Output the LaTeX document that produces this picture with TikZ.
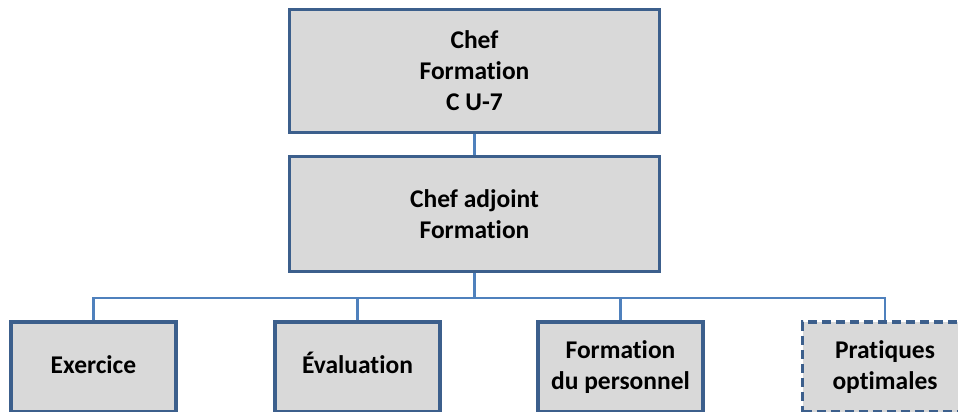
\documentclass[tikz,border=0pt]{standalone}
\usepackage{fontspec}
\setmainfont{Carlito}[Ligatures={NoCommon,NoRequired,NoContextual}]
\definecolor{boxline}{RGB}{60,95,140}
\definecolor{boxfill}{RGB}{217,217,217}
\definecolor{conn}{RGB}{79,129,189}
\begin{document}
\begin{tikzpicture}[x=1pt,y=-1pt,
  orgbox/.style={draw=boxline, fill=boxfill, line width=3.5pt, align=center,
    font=\fontsize{25.5}{31}\selectfont\bfseries, inner sep=0pt},
  topbox/.style={orgbox, minimum width=370pt, minimum height=123pt},
  midbox/.style={orgbox, minimum width=370pt, minimum height=115pt},
  leafbox/.style={orgbox, minimum width=165pt, minimum height=90pt},
  oneline/.style={text height=18pt, text depth=6pt},
  dashbox/.style={leafbox, dash pattern=on 9pt off 5pt},
  link/.style={draw=conn, line width=2.5pt}]
\useasboundingbox (0,0) rectangle (958,412);
\clip (0,0) rectangle (958,412);
\node[topbox] (chef) at (474.5,71) {Chef\\Formation\\C U-7};
\node[midbox] (adj) at (474.5,214) {Chef adjoint\\Formation};
\node[leafbox, oneline] (ex) at (93.5,367) {Exercice};
\node[leafbox, oneline] (ev) at (357.5,367) {Évaluation};
\node[leafbox] (fp) at (620.5,367) {Formation\\du personnel};
\node[dashbox] (po) at (885,367) {Pratiques\\optimales};
\coordinate (bus) at (474.5,298);
\draw[link] (chef.south) -- (adj.north);
\draw[link] (adj.south) -- (bus);
\draw[link] (ex.north) -- (ex.north |- bus) -- (po.north |- bus) -- (po.north);
\draw[link] (ev.north) -- (ev.north |- bus);
\draw[link] (fp.north) -- (fp.north |- bus);
\end{tikzpicture}
\end{document}
